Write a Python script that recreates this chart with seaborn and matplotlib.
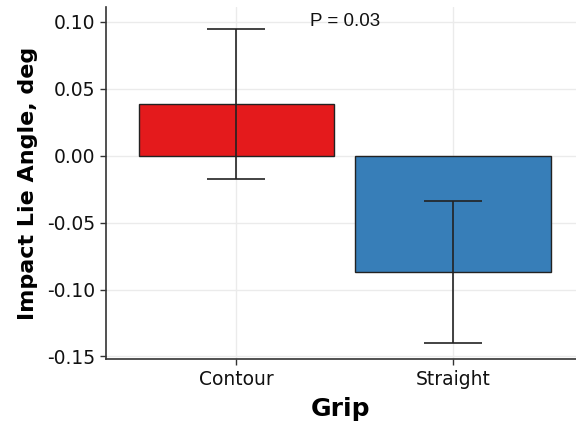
import matplotlib
matplotlib.use('Agg')
import matplotlib.pyplot as plt
import seaborn as sns
import pandas as pd
import numpy as np

grips = ['Contour', 'Straight']
mean_angle = [0.0388, -0.0866]
err_angle = [0.056, 0.053]
colors = ['#E41A1C', '#377EB8']

df = pd.DataFrame({'Grip': grips, 'Angle': mean_angle})

sns.set_style('whitegrid')
plt.rcParams['font.family'] = ['DejaVu Sans']

fig = plt.figure(figsize=(5.76, 4.21), dpi=100)
ax = fig.add_axes([0.184, 0.147, 0.816, 0.836])

sns.barplot(data=df, x='Grip', y='Angle', hue='Grip', palette=colors,
            saturation=1, width=0.9, edgecolor='#222222', linewidth=1.0,
            legend=False, errorbar=None, ax=ax)
ax.errorbar(x=np.arange(len(grips)), y=mean_angle, yerr=err_angle,
            fmt='none', ecolor='#222222', elinewidth=1.2, capsize=21, capthick=1.2)

ax.set_xlim(-0.6, 1.567)
ax.set_ylim(-0.152, 0.111)
ax.set_yticks([-0.15, -0.10, -0.05, 0.00, 0.05, 0.10])
ax.set_yticklabels(['-0.15', '-0.10', '-0.05', '0.00', '0.05', '0.10'])

ax.grid(True, color='#ebebeb', linewidth=1.0)
ax.set_axisbelow(True)
for side in ['top', 'right']:
    ax.spines[side].set_visible(False)
for side in ['left', 'bottom']:
    ax.spines[side].set_color('#333333')
    ax.spines[side].set_linewidth(1.2)

ax.tick_params(axis='both', which='major', labelsize=13.5, colors='#333333',
               labelcolor='#111111', length=4, width=1.0, direction='out',
               left=True, bottom=True)

ax.set_xlabel('Grip', fontsize=18, fontweight='bold', labelpad=6, color='black')
ax.set_ylabel('Impact Lie Angle, deg', fontsize=16, fontweight='bold',
              labelpad=7, color='black')

ax.text(0.5, 0.10, 'P = 0.03', fontsize=13.5, family=['Liberation Sans'],
        ha='center', va='center', color='#111111')

fig.savefig('out.png', dpi=100)
